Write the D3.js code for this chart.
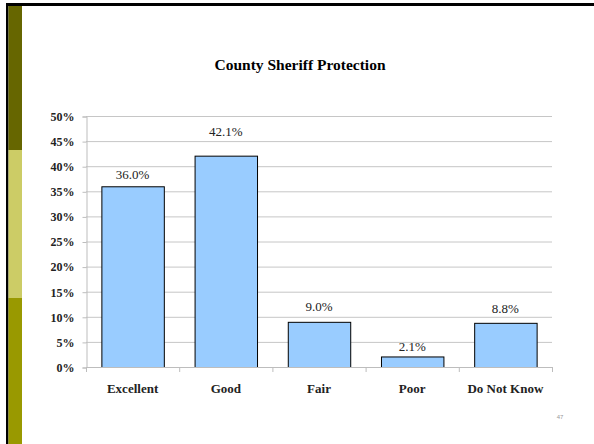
<!DOCTYPE html>
<html>
<head>
<meta charset="utf-8">
<script src="https://cdn.jsdelivr.net/npm/d3@7"></script>
<style>
  body { margin: 0; background: #fff; }
</style>
</head>
<body>
<div id="chart"></div>
<script>
// DATA
var categories = ["Excellent", "Good", "Fair", "Poor", "Do Not Know"];
var values = [36.0, 42.1, 9.0, 2.1, 8.8];
var yTicks = [0, 5, 10, 15, 20, 25, 30, 35, 40, 45, 50];
var chartTitle = "County Sheriff Protection";
var slideNumber = "47";

// label gap above each bar (labels were nudged by hand in the original)
var labelGap = [7, 20, 11, 5, 10];

var width = 594,
    height = 444;
var serif = "font-family:'Liberation Serif',serif;";

var svg = d3.select("#chart").append("svg")
    .attr("width", width)
    .attr("height", height)
    .attr("font-family", "Liberation Serif");

// slide frame + left stripe
svg.append("rect").attr("x", 6).attr("y", 3).attr("width", width - 6).attr("height", 3).attr("fill", "#000");
svg.append("rect").attr("x", 6).attr("y", 3).attr("width", 2.5).attr("height", height).attr("fill", "#000");
var stripe = [["#666600", 6, 150], ["#cccc66", 150, 298], ["#999900", 298, height]];
stripe.forEach(function(s) {
  svg.append("rect").attr("x", 8.5).attr("y", s[1]).attr("width", 13.5).attr("height", s[2] - s[1]).attr("fill", s[0]);
});

// plot area
var x = d3.scaleBand()
    .domain(categories)
    .range([86, 552])
    .paddingInner(0.33)
    .paddingOuter(0.165);

var y = d3.scaleLinear()
    .domain([0, 50])
    .range([367, 116]);

// gridlines
svg.append("g").selectAll("line")
  .data(yTicks.slice(1))
  .enter().append("line")
    .attr("x1", 86).attr("x2", 552)
    .attr("y1", function(d) { return y(d) + 0.5; })
    .attr("y2", function(d) { return y(d) + 0.5; })
    .attr("stroke", "#c6c6c6")
    .attr("stroke-width", 1);

// y axis
var yAxis = svg.append("g")
    .attr("transform", "translate(86.5,0.5)")
    .call(d3.axisLeft(y).tickValues(yTicks).tickSize(4).tickPadding(8)
      .tickFormat(function(d) { return d + "%"; }));
yAxis.attr("font-family", null).attr("font-size", null);
yAxis.select(".domain").attr("stroke", "#bdbdbd");
yAxis.selectAll(".tick line").attr("stroke", "#bdbdbd");
yAxis.selectAll("text")
    .attr("style", serif + "font-size:12px;font-weight:bold")
    .attr("fill", "#222");

// bars
svg.append("g").selectAll("rect")
  .data(values)
  .enter().append("rect")
    .attr("x", function(d, i) { return x(categories[i]) + 0.5; })
    .attr("y", function(d) { return y(d) + 0.5; })
    .attr("width", x.bandwidth())
    .attr("height", function(d) { return y(0) - y(d); })
    .attr("fill", "#99ccff")
    .attr("stroke", "#000")
    .attr("stroke-width", 1);

// x axis (drawn over bar bottoms)
svg.append("line")
    .attr("x1", 86).attr("x2", 552)
    .attr("y1", y(0) + 0.5).attr("y2", y(0) + 0.5)
    .attr("stroke", "#bdbdbd");
svg.append("g").selectAll("line")
  .data(d3.range(categories.length + 1))
  .enter().append("line")
    .attr("x1", function(i) { return 86.5 + i * x.step(); })
    .attr("x2", function(i) { return 86.5 + i * x.step(); })
    .attr("y1", y(0)).attr("y2", y(0) + 5)
    .attr("stroke", "#bdbdbd");

// category labels
svg.append("g").selectAll("text")
  .data(categories)
  .enter().append("text")
    .attr("x", function(d) { return x(d) + x.bandwidth() / 2; })
    .attr("y", 393)
    .attr("text-anchor", "middle")
    .attr("style", serif + "font-size:13px;font-weight:bold")
    .attr("fill", "#222")
    .text(function(d) { return d; });

// value labels
svg.append("g").selectAll("text")
  .data(values)
  .enter().append("text")
    .attr("x", function(d, i) { return x(categories[i]) + x.bandwidth() / 2; })
    .attr("y", function(d, i) { return y(d) - labelGap[i]; })
    .attr("text-anchor", "middle")
    .attr("style", serif + "font-size:13px")
    .attr("fill", "#222")
    .text(function(d) { return d.toFixed(1) + "%"; });

// title
svg.append("text")
    .attr("x", 300)
    .attr("y", 70)
    .attr("text-anchor", "middle")
    .attr("style", serif + "font-size:15.5px;font-weight:bold")
    .text(chartTitle);

// slide number
svg.append("text")
    .attr("x", 560)
    .attr("y", 419)
    .attr("text-anchor", "middle")
    .attr("style", "font-family:'Liberation Sans',sans-serif;font-size:6px")
    .attr("fill", "#999")
    .text(slideNumber);
</script>
</body>
</html>
